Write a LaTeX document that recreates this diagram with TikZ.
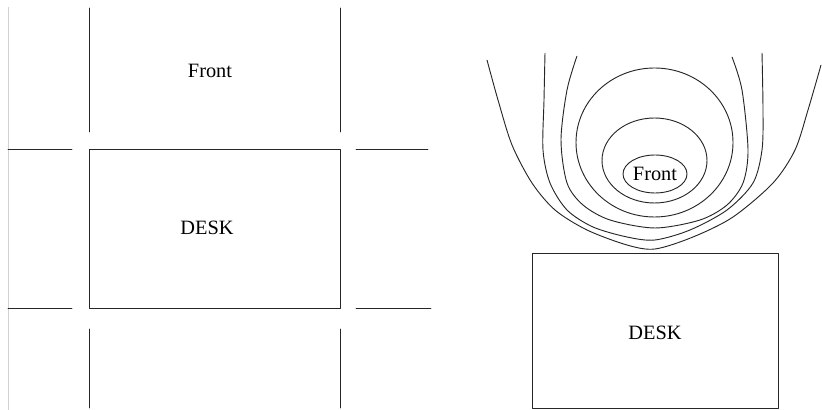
\documentclass[tikz,border=0pt]{standalone}
\usepackage{fontspec}
\setmainfont{Liberation Serif}
\usepackage{tkz-euclide}

\tikzset{
  plan/.style={line width=0.5pt, black!85},
  planlabel/.style={font=\fontsize{11}{13}\selectfont, inner sep=0pt}
}

\begin{document}
\begin{tikzpicture}[scale=0.19]
\useasboundingbox (0,0) rectangle (82.2,41);

% =========================
% POINTS (LEFT PLAN)
% =========================

\tkzDefPoint(8.9,26.1){A}
\tkzDefPoint(34.0,26.1){B}
\tkzDefPoint(34.0,10.2){C}
\tkzDefPoint(8.9,10.2){D}

\tkzDefPoint(8.9,40.2){P1}
\tkzDefPoint(8.9,27.8){P2}
\tkzDefPoint(34.0,40.2){P3}
\tkzDefPoint(34.0,27.8){P4}
\tkzDefPoint(8.9,8.1){P5}
\tkzDefPoint(8.9,0.2){P6}
\tkzDefPoint(34.0,8.1){P7}
\tkzDefPoint(34.0,0.2){P8}

\tkzDefPoint(0.8,26.1){Q1}
\tkzDefPoint(7.2,26.1){Q2}
\tkzDefPoint(0.8,10.2){Q3}
\tkzDefPoint(7.2,10.2){Q4}
\tkzDefPoint(35.6,26.1){Q5}
\tkzDefPoint(42.8,26.1){Q6}
\tkzDefPoint(35.6,10.2){Q7}
\tkzDefPoint(43.1,10.2){Q8}

\tkzDefPoint(0.8,40.3){R1}
\tkzDefPoint(0.8,0){R2}

% =========================
% POINTS (RIGHT PLAN)
% =========================

\tkzDefPoint(53.2,15.7){E}
\tkzDefPoint(77.8,15.7){F}
\tkzDefPoint(77.8,0.2){G}
\tkzDefPoint(53.2,0.2){H}

% =========================
% LEFT PLAN
% =========================

\draw[gray!35, line width=0.5pt] (R1) -- (R2);

\tkzDrawPolygon[plan](A,B,C,D)
\tkzDrawSegments[plan](P1,P2 P3,P4 P5,P6 P7,P8)
\tkzDrawSegments[plan](Q1,Q2 Q3,Q4 Q5,Q6 Q7,Q8)

\node[planlabel] (frontA) at (21.0,33.9) {Front};
\node[planlabel] (deskA) at (20.7,18.2) {DESK};

% =========================
% RIGHT PLAN
% =========================

\tkzDrawPolygon[plan](E,F,G,H)
\node[planlabel] (deskB) at (65.5,7.7) {DESK};

% zones round the front
\node[planlabel] (frontB) at (65.5,23.6) {Front};
\draw[plan] (frontB) ellipse [x radius=3.2, y radius=1.9];
\draw[plan] (65.45,24.95) ellipse [x radius=5.25, y radius=4.25];
\draw[plan] (65.45,26.75) ellipse [x radius=7.85, y radius=7.45];

\draw[plan] plot[smooth] coordinates {
  (57.7,35.4) (56.7,32.0) (56.1,27.0) (56.7,22.7) (58.3,20.5) (61.0,19.0)
  (65.5,18.2) (70.0,19.0) (72.7,20.5) (74.3,22.7) (74.8,26.0) (74.2,32.0) (73.2,35.3)};
\draw[plan] plot[smooth] coordinates {
  (54.5,35.7) (54.4,31.0) (54.3,26.0) (55.0,22.7) (56.7,20.0) (59.3,18.3) (62.7,17.3)
  (65.5,17.0) (69.0,18.0) (72.7,20.0) (75.3,22.7) (76.2,26.0) (76.3,30.0) (76.2,35.7)};
\draw[plan] plot[smooth] coordinates {
  (48.7,35.0) (49.8,31.0) (51.2,26.5) (53.2,22.7) (55.5,20.0) (58.7,18.0) (62.7,16.5)
  (65.5,16.1) (69.3,17.3) (73.3,19.3) (77.3,22.7) (79.5,26.0) (80.8,30.0) (82.1,34.5)};

\end{tikzpicture}
\end{document}
